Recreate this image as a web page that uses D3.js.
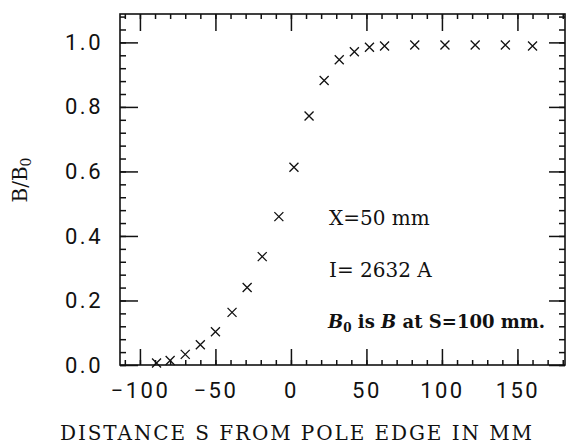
<!DOCTYPE html>
<html>
<head>
<meta charset="utf-8">
<script src="https://cdn.jsdelivr.net/npm/d3@7"></script>
<style>
  body { margin: 0; background: #fff; }
  .tick text { font-family: Roboto, "Liberation Sans", sans-serif; font-weight: 400; font-size: 22px; letter-spacing: 2.5px; fill: #111; }
  .tick line { stroke: #111; stroke-width: 1.5px; }
</style>
</head>
<body>
<div id="chart"></div>
<script>
// distance S from pole edge (mm)
var sValues = [-89, -80, -70, -60, -50, -39, -29, -19, -8, 2, 12, 22, 32, 42, 52, 62, 82, 102, 122, 142, 160];
// B/B0
var bRatio = [0.006, 0.014, 0.033, 0.063, 0.103, 0.163, 0.240, 0.336, 0.460, 0.613, 0.772, 0.882, 0.946, 0.971, 0.985, 0.989, 0.992, 0.992, 0.992, 0.992, 0.989];

var xMajor = [-100, -50, 0, 50, 100, 150];
var xMinor = d3.range(-110, 181, 10);
var yMajor = [0, 0.2, 0.4, 0.6, 0.8, 1.0];
var yMinor = d3.range(0, 1.09, 0.04);

var notes = ["X=50 mm", "I= 2632 A"];

function init() {
    var w = 566;
    var h = 447;

    var x = d3.scaleLinear().domain([-113.2, 181.5]).range([120, 565]);
    var y = d3.scaleLinear().domain([0, 1.088]).range([365, 14]);

    var svg = d3.select("#chart")
                .append("svg")
                .attr("width", w)
                .attr("height", h);

    // minor ticks
    svg.append("g").attr("transform", "translate(0,365)")
       .call(d3.axisBottom(x).tickValues(xMinor).tickSize(-5).tickFormat(""));
    svg.append("g").attr("transform", "translate(0,14)")
       .call(d3.axisTop(x).tickValues(xMinor).tickSize(-5).tickFormat(""));
    svg.append("g").attr("transform", "translate(120,0)")
       .call(d3.axisLeft(y).tickValues(yMinor).tickSize(-6).tickFormat(""));
    svg.append("g").attr("transform", "translate(565,0)")
       .call(d3.axisRight(y).tickValues(yMinor).tickSize(-6).tickFormat(""));

    // major ticks
    svg.append("g").attr("transform", "translate(0,365)")
       .call(d3.axisBottom(x).tickValues(xMajor).tickSizeInner(-16).tickSizeOuter(0).tickPadding(17).tickFormat(d3.format("d")));
    svg.append("g").attr("transform", "translate(0,14)")
       .call(d3.axisTop(x).tickValues(xMajor).tickSize(-17).tickFormat(""));
    svg.append("g").attr("transform", "translate(120,0)")
       .call(d3.axisLeft(y).tickValues(yMajor).tickSizeInner(-18).tickSizeOuter(0).tickPadding(17).tickFormat(d3.format(".1f")));
    svg.append("g").attr("transform", "translate(565,0)")
       .call(d3.axisRight(y).tickValues(yMajor).tickSize(-16).tickFormat(""));

    svg.selectAll(".domain").remove();

    svg.append("rect")
       .attr("x", 120).attr("y", 14)
       .attr("width", 445).attr("height", 351)
       .attr("fill", "none")
       .attr("stroke", "#111")
       .attr("stroke-width", 1.6);

    // data crosses
    var r = 4.5;
    svg.selectAll("path.pt")
       .data(sValues)
       .enter()
       .append("path")
       .attr("class", "pt")
       .attr("d", function(d, i) {
           var cx = x(d), cy = y(bRatio[i]);
           return "M" + (cx - r) + "," + (cy - r) + "L" + (cx + r) + "," + (cy + r) +
                  "M" + (cx - r) + "," + (cy + r) + "L" + (cx + r) + "," + (cy - r);
       })
       .attr("stroke", "#111")
       .attr("stroke-width", 1.3)
       .attr("fill", "none");

    // annotations
    svg.selectAll("text.note")
       .data(notes)
       .enter()
       .append("text")
       .attr("class", "note")
       .attr("x", 329)
       .attr("y", function(d, i) { return 225 + i * 52; })
       .attr("font-family", "DejaVu Serif, serif")
       .attr("font-size", 20)
       .attr("fill", "#111")
       .text(function(d) { return d; });

    var t3 = svg.append("text")
       .attr("x", 328).attr("y", 328)
       .attr("font-family", "DejaVu Serif, serif")
       .attr("font-size", 18)
       .attr("font-weight", "bold")
       .attr("fill", "#111");
    t3.append("tspan").attr("font-style", "italic").text("B");
    t3.append("tspan").attr("font-size", 12).attr("dy", 4).text("0");
    t3.append("tspan").attr("dy", -4).text(" is ");
    t3.append("tspan").attr("font-style", "italic").text("B");
    t3.append("tspan").text(" at S=100 mm.");

    // axis titles
    var yl = svg.append("text")
       .attr("transform", "translate(27,180) rotate(-90)")
       .attr("text-anchor", "middle")
       .attr("font-family", "DejaVu Serif, serif")
       .attr("font-size", 20)
       .attr("fill", "#111");
    yl.append("tspan").text("B/B");
    yl.append("tspan").attr("font-size", 14).attr("dy", 4).text("0");

    svg.append("text")
       .attr("x", 296).attr("y", 440)
       .attr("text-anchor", "middle")
       .attr("font-family", "DejaVu Serif, serif")
       .attr("font-size", 20)
       .attr("textLength", 472)
       .attr("lengthAdjust", "spacing")
       .attr("fill", "#111")
       .text("DISTANCE S FROM POLE EDGE IN MM");
}

window.onload = init;
</script>
</body>
</html>
